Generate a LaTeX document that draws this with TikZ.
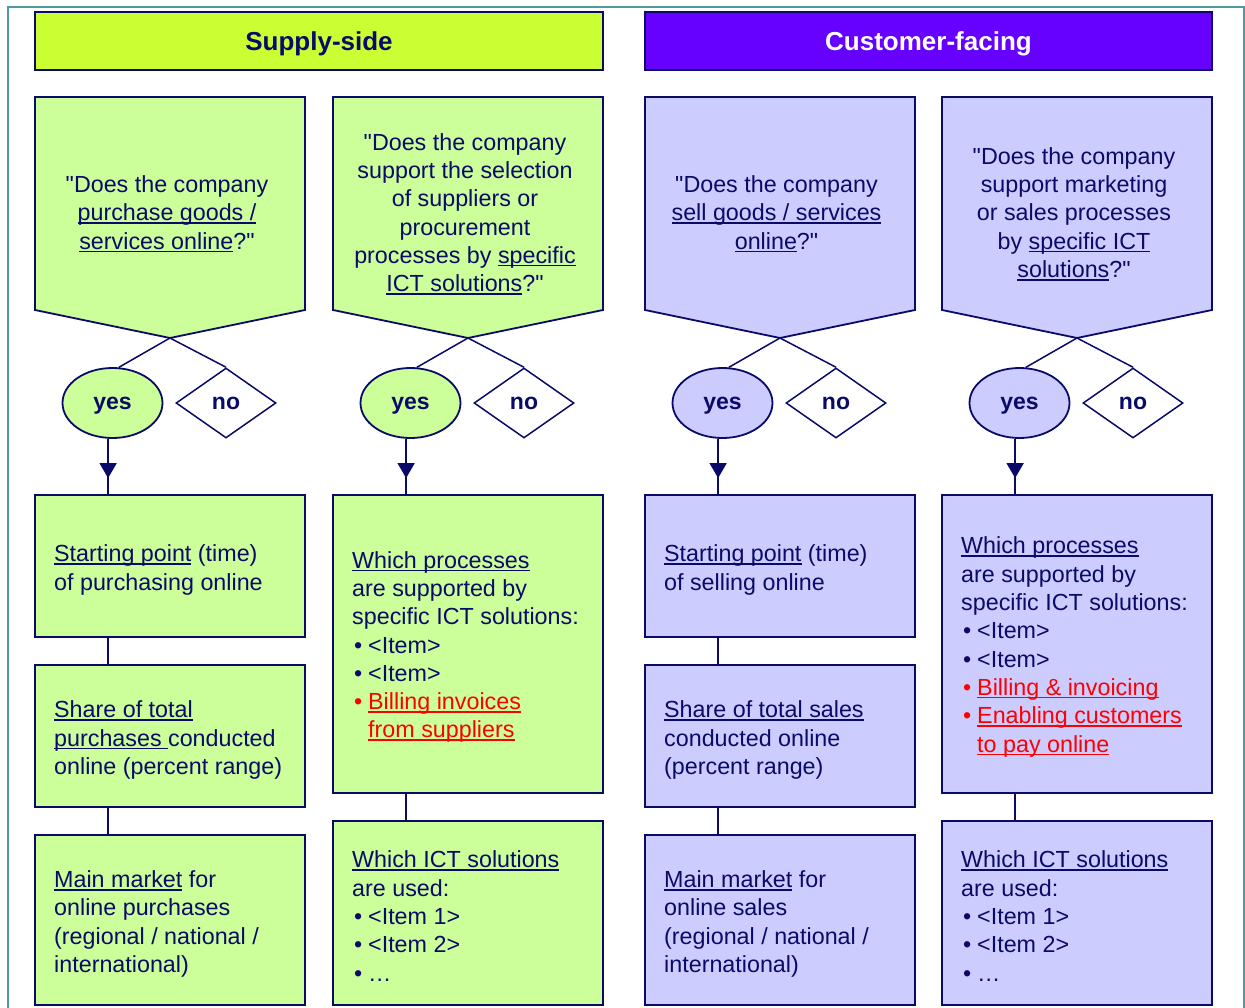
\documentclass[tikz,border=0pt]{standalone}
\usepackage{fontspec}
\setmainfont{Liberation Sans}
\usetikzlibrary{shapes.geometric,arrows.meta,decorations.markings}
\definecolor{dnavy}{RGB}{10,10,104}
\definecolor{lgreen}{HTML}{CCFF99}
\definecolor{hgreen}{HTML}{CCFF33}
\definecolor{lpurp}{HTML}{CCCCFF}
\definecolor{hpurp}{HTML}{6600FF}
\definecolor{frmcol}{HTML}{4F99A0}
\newcommand\ul[1]{\setbox0\hbox{#1}\rlap{\rule[-3pt]{\wd0}{1.5pt}}\box0\relax}
\newcommand\bul{\makebox[16pt][l]{\hspace{2pt}•}}
\newcommand\qq{\textquotedbl}
\newcommand\qpent[3]{%
  \draw[draw=dnavy, line width=1.8pt, fill=#2] (#1,97) -- ++(270,0) -- ++(0,213) -- ++(-135,28) -- ++(-135,-28) -- cycle;
  \coordinate (#3) at ({#1+135},338);}
\begin{document}
\begin{tikzpicture}[x=1pt,y=-1pt,
  bx/.style={draw=dnavy, line width=1.8pt, minimum width=270pt, inner sep=0pt},
  gb/.style={bx, fill=lgreen},
  pb/.style={bx, fill=lpurp},
  txt/.style={font=\fontsize{23.3}{28.3}\selectfont, text=dnavy, inner sep=0pt, align=left, anchor=west},
  qtxt/.style={font=\fontsize{23.3}{28.3}\selectfont, text=dnavy, inner sep=0pt, align=center},
  yesn/.style={ellipse, draw=dnavy, line width=1.8pt, minimum width=100pt, minimum height=70pt, inner sep=0pt, font=\bfseries\fontsize{23}{27}\selectfont, text=dnavy, text height=12pt, text depth=0pt},
  non/.style={diamond, aspect=1.43, draw=dnavy, fill=white, line width=1.5pt, minimum width=100pt, minimum height=70pt, inner sep=0pt, font=\bfseries\fontsize{23}{27}\selectfont, text=dnavy, text height=12pt, text depth=0pt},
  hdr/.style={draw=dnavy, line width=1.8pt, minimum height=58pt, inner sep=0pt, font=\bfseries\fontsize{26}{30}\selectfont, text height=18.5pt, text depth=0pt},
  conn/.style={draw=dnavy, line width=1.5pt},
  midarrow/.style={postaction={decorate}, decoration={markings, mark=at position 0.7 with {\arrow[dnavy]{Triangle[width=17pt,length=15pt]}}}}
]
\useasboundingbox (0,0) rectangle (1245,1008);
\clip (0,0) rectangle (1245,1008);
\fill[white] (0,0) rectangle (1245,1008);
\draw[frmcol, line width=2pt] (7.5,1040) -- (7.5,7.5) -- (1243.5,7.5) -- (1243.5,1040);

% headers
\node[hdr, fill=hgreen, text=dnavy, minimum width=568pt] (hs) at (319,41) {Supply-side};
\node[hdr, fill=hpurp, text=white, minimum width=567pt] (hc) at (928.5,41) {Customer-facing};

% ---------------- column 1
\qpent{35}{lgreen}{t1}
\node[qtxt] (q1) at (167,214) {\qq Does the company\\\ul{purchase goods /}\\\ul{services online}?\qq};
\node[yesn, fill=lgreen] (y1) at (112.5,403) {yes};
\node[non] (n1) at (226,403) {no};
\draw[conn] (t1) -- (y1.80);
\draw[conn] (t1) -- (n1.north);
\draw[conn, midarrow] (y1.263) -- (y1.263 |- 0,495);
\node[gb, minimum height=142pt] (b1a) at (170,566) {};
\node[txt] (b1at) at (54,570) {\ul{Starting point} (time)\\of purchasing online};
\node[gb, minimum height=142pt] (b1b) at (170,736) {};
\node[txt] (b1bt) at (54,740) {\ul{Share of total}\\\ul{purchases }conducted\\online (percent range)};
\node[gb, minimum height=170pt] (b1c) at (170,920) {};
\node[txt] (b1ct) at (54,924) {\ul{Main market} for\\online purchases\\(regional / national /\\international)};
\draw[conn] (b1a.south -| y1.263) -- (b1b.north -| y1.263);
\draw[conn] (b1b.south -| y1.263) -- (b1c.north -| y1.263);

% ---------------- column 2
\qpent{333}{lgreen}{t2}
\node[qtxt] (q2) at (465,214) {\qq Does the company\\support the selection\\of suppliers or\\procurement\\processes by \ul{specific}\\\ul{ICT solutions}?\qq};
\node[yesn, fill=lgreen] (y2) at (410.5,403) {yes};
\node[non] (n2) at (524,403) {no};
\draw[conn] (t2) -- (y2.80);
\draw[conn] (t2) -- (n2.north);
\draw[conn, midarrow] (y2.263) -- (y2.263 |- 0,495);
\node[gb, minimum height=298pt] (b2a) at (468,644) {};
\node[txt] (b2at) at (352,647) {\ul{Which processes}\\are supported by\\specific ICT solutions:\\\bul<Item>\\\bul<Item>\\\textcolor{red}{\bul\ul{Billing invoices}}\\\textcolor{red}{\hspace*{16pt}\ul{from suppliers}}};
\node[gb, minimum height=184pt] (b2b) at (468,913) {};
\node[txt] (b2bt) at (352,916) {\ul{Which ICT solutions}\\are used:\\\bul<Item 1>\\\bul<Item 2>\\\bul…};
\draw[conn] (b2a.south -| y2.263) -- (b2b.north -| y2.263);

% ---------------- column 3
\qpent{645}{lpurp}{t3}
\node[qtxt] (q3) at (776.5,214) {\qq Does the company\\\ul{sell goods / services}\\\ul{online}?\qq};
\node[yesn, fill=lpurp] (y3) at (722.5,403) {yes};
\node[non] (n3) at (836,403) {no};
\draw[conn] (t3) -- (y3.80);
\draw[conn] (t3) -- (n3.north);
\draw[conn, midarrow] (y3.263) -- (y3.263 |- 0,495);
\node[pb, minimum height=142pt] (b3a) at (780,566) {};
\node[txt] (b3at) at (664,570) {\ul{Starting point} (time)\\of selling online};
\node[pb, minimum height=142pt] (b3b) at (780,736) {};
\node[txt] (b3bt) at (664,740) {\ul{Share of total sales}\\conducted online\\(percent range)};
\node[pb, minimum height=170pt] (b3c) at (780,920) {};
\node[txt] (b3ct) at (664,924) {\ul{Main market} for\\online sales\\(regional / national /\\international)};
\draw[conn] (b3a.south -| y3.263) -- (b3b.north -| y3.263);
\draw[conn] (b3b.south -| y3.263) -- (b3c.north -| y3.263);

% ---------------- column 4
\qpent{942}{lpurp}{t4}
\node[qtxt] (q4) at (1074,214) {\qq Does the company\\support marketing\\or sales processes\\by \ul{specific ICT}\\\ul{solutions}?\qq};
\node[yesn, fill=lpurp] (y4) at (1019.5,403) {yes};
\node[non] (n4) at (1133,403) {no};
\draw[conn] (t4) -- (y4.80);
\draw[conn] (t4) -- (n4.north);
\draw[conn, midarrow] (y4.263) -- (y4.263 |- 0,495);
\node[pb, minimum height=298pt] (b4a) at (1077,644) {};
\node[txt] (b4at) at (961,647) {\ul{Which processes}\\are supported by\\specific ICT solutions:\\\bul<Item>\\\bul<Item>\\\textcolor{red}{\bul\ul{Billing \& invoicing}}\\\textcolor{red}{\bul\ul{Enabling customers}}\\\textcolor{red}{\hspace*{16pt}\ul{to pay online}}};
\node[pb, minimum height=184pt] (b4b) at (1077,913) {};
\node[txt] (b4bt) at (961,916) {\ul{Which ICT solutions}\\are used:\\\bul<Item 1>\\\bul<Item 2>\\\bul…};
\draw[conn] (b4a.south -| y4.263) -- (b4b.north -| y4.263);
\end{tikzpicture}
\end{document}
